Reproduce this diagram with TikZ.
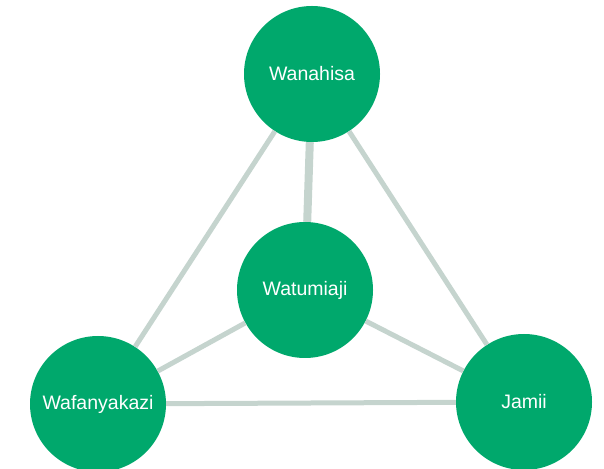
\documentclass[tikz,border=0pt]{standalone}
\usepackage{fontspec}
\setmainfont{Liberation Sans}
\usepackage{xcolor}
\usepackage{tikz}
\usetikzlibrary{positioning}

\definecolor{grp}{RGB}{0,168,108}
\definecolor{lnk}{RGB}{197,212,206}

\begin{document}
\begin{tikzpicture}[x=1pt,y=1pt,
    group/.style={circle, fill=grp, minimum size=136pt, inner sep=0pt, text=white, font=\fontsize{19.5}{23}\selectfont},
    link/.style={draw=lnk, line width=5pt}]
    \useasboundingbox (0,0) rectangle (604,468);

    % Circles
    \node [group] (wanahisa) at (312,394) {Wanahisa};
    \node [group] (watumiaji) at (305,178) {Watumiaji};
    \node [group] (wafanyakazi) at (98,64) {Wafanyakazi};
    \node [group] (jamii) at (524,66) {Jamii};

    % Lines
    \draw [link, line width=8pt] (wanahisa) -- (watumiaji);
    \draw [link] (wanahisa) -- (wafanyakazi);
    \draw [link] (wanahisa) -- (jamii);
    \draw [link] (watumiaji) -- (wafanyakazi);
    \draw [link] (watumiaji) -- (jamii);
    \draw [link] (wafanyakazi) -- (jamii);
  \end{tikzpicture}
\end{document}
